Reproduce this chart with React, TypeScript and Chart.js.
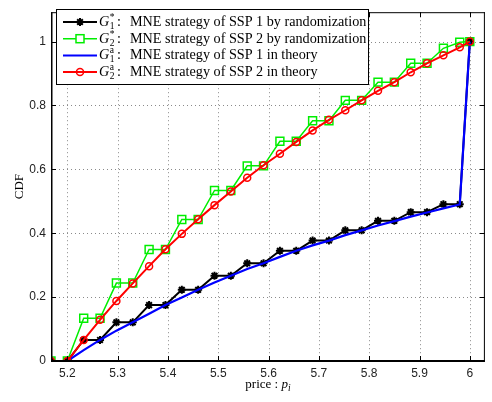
import React, { useEffect, useRef } from 'react';
import { Chart, registerables } from 'chart.js';

Chart.register(...registerables);

// price grid (x values)
const prices = [
  5.1675, 5.2, 5.2325, 5.265, 5.2975, 5.33, 5.3625, 5.395, 5.4275, 5.46, 5.4925,
  5.525, 5.5575, 5.59, 5.6225, 5.655, 5.6875, 5.72, 5.7525, 5.785, 5.8175, 5.85,
  5.8825, 5.915, 5.9475, 5.98, 6.0,
];

// G1* : SSP 1 by randomization (black)
const g1Random = [
  0, 0, 0.066, 0.066, 0.121, 0.121, 0.175, 0.175, 0.223, 0.223, 0.267, 0.267,
  0.306, 0.306, 0.345, 0.345, 0.377, 0.377, 0.409, 0.409, 0.439, 0.439, 0.466,
  0.466, 0.491, 0.491, 1,
];

// G2* : SSP 2 by randomization (green)
const g2Random = [
  0, 0, 0.134, 0.134, 0.244, 0.244, 0.349, 0.349, 0.443, 0.443, 0.534, 0.534,
  0.611, 0.611, 0.688, 0.688, 0.752, 0.752, 0.816, 0.816, 0.873, 0.873, 0.932,
  0.932, 0.979, 0.998, 1,
];

// G1a : SSP 1 in theory (blue)
const g1Theory = [
  0, 0, 0.034, 0.066, 0.095, 0.121, 0.148, 0.175, 0.199, 0.223, 0.246, 0.267,
  0.288, 0.306, 0.326, 0.345, 0.362, 0.377, 0.394, 0.409, 0.424, 0.438, 0.452,
  0.465, 0.478, 0.49, 1,
];

// G2a : SSP 2 in theory (red)
const g2Theory = [
  0, 0, 0.066, 0.129, 0.188, 0.243, 0.297, 0.35, 0.398, 0.444, 0.488, 0.531,
  0.574, 0.613, 0.649, 0.686, 0.722, 0.755, 0.785, 0.816, 0.846, 0.873, 0.904,
  0.932, 0.957, 0.982, 1,
];

const xTicks = [5.2, 5.3, 5.4, 5.5, 5.6, 5.7, 5.8, 5.9, 6];
const yTicks = [0, 0.2, 0.4, 0.6, 0.8, 1];

const legendTexts = [
  'MNE strategy of SSP 1 by randomization',
  'MNE strategy of SSP 2 by randomization',
  'MNE strategy of SSP 1 in theory',
  'MNE strategy of SSP 2 in theory',
];
const legendSubs = ['1', '2', '1', '2'];
const legendSups = ['*', '*', 'a', 'a'];
const legendColors = ['#000000', '#00ee00', '#0000ff', '#ff0000'];
const legendMarkers = ['star', 'square', 'none', 'circle'];

const yTitle = 'CDF';
const xTitleMain = 'price : ';
const xTitleVar = 'p';
const xTitleSub = 'i';

const SERIF = '"Liberation Serif", "DejaVu Serif", serif';
const SANS = '"Liberation Sans", Arial, sans-serif';

function drawMarker(ctx: CanvasRenderingContext2D, kind: string, x: number, y: number, color: string) {
  ctx.save();
  ctx.strokeStyle = color;
  ctx.fillStyle = color;
  ctx.setLineDash([]);
  if (kind === 'star') {
    ctx.lineWidth = 2;
    const r = 4;
    ctx.beginPath();
    ctx.moveTo(x - r, y); ctx.lineTo(x + r, y);
    ctx.moveTo(x, y - r); ctx.lineTo(x, y + r);
    const d = r * Math.SQRT1_2;
    ctx.moveTo(x - d, y - d); ctx.lineTo(x + d, y + d);
    ctx.moveTo(x - d, y + d); ctx.lineTo(x + d, y - d);
    ctx.stroke();
  } else if (kind === 'square') {
    ctx.lineWidth = 1.5;
    ctx.fillStyle = '#ffffff';
    ctx.fillRect(x - 4, y - 4, 8, 8);
    ctx.strokeRect(x - 4, y - 4, 8, 8);
  } else if (kind === 'circle') {
    ctx.lineWidth = 1.5;
    ctx.beginPath();
    ctx.arc(x, y, 3.5, 0, Math.PI * 2);
    ctx.stroke();
  }
  ctx.restore();
}

const framePlugin = {
  id: 'framePlugin',
  beforeDatasetsDraw(chart: any) {
    const { ctx, chartArea: a, scales } = chart;
    ctx.save();
    ctx.strokeStyle = '#8a8a8a';
    ctx.lineWidth = 1;
    ctx.setLineDash([1, 3]);
    for (const v of xTicks) {
      const px = Math.round(scales.x.getPixelForValue(v)) + 0.5;
      ctx.beginPath(); ctx.moveTo(px, a.top); ctx.lineTo(px, a.bottom); ctx.stroke();
    }
    for (const v of yTicks) {
      const py = Math.round(scales.y.getPixelForValue(v)) + 0.5;
      ctx.beginPath(); ctx.moveTo(a.left, py); ctx.lineTo(a.right, py); ctx.stroke();
    }
    ctx.restore();
  },
  afterDraw(chart: any) {
    const { ctx, chartArea: a, scales } = chart;
    ctx.save();
    ctx.setLineDash([]);
    ctx.strokeStyle = '#000';
    // inward tick marks
    ctx.lineWidth = 1;
    const tl = 5;
    for (const v of xTicks) {
      const px = Math.round(scales.x.getPixelForValue(v)) + 0.5;
      ctx.beginPath();
      ctx.moveTo(px, a.bottom); ctx.lineTo(px, a.bottom - tl);
      ctx.moveTo(px, a.top); ctx.lineTo(px, a.top + tl);
      ctx.stroke();
    }
    for (const v of yTicks) {
      const py = Math.round(scales.y.getPixelForValue(v)) + 0.5;
      ctx.beginPath();
      ctx.moveTo(a.left, py); ctx.lineTo(a.left + tl, py);
      ctx.moveTo(a.right, py); ctx.lineTo(a.right - tl, py);
      ctx.stroke();
    }
    // box
    ctx.lineWidth = 1;
    ctx.beginPath();
    ctx.moveTo(a.left, a.top + 0.5); ctx.lineTo(a.right, a.top + 0.5);
    ctx.moveTo(a.right - 0.5, a.top); ctx.lineTo(a.right - 0.5, a.bottom);
    ctx.stroke();
    ctx.lineWidth = 1.5;
    ctx.beginPath();
    ctx.moveTo(a.left + 0.75, a.top); ctx.lineTo(a.left + 0.75, a.bottom);
    ctx.stroke();
    ctx.lineWidth = 2;
    ctx.beginPath();
    ctx.moveTo(a.left, a.bottom); ctx.lineTo(a.right, a.bottom);
    ctx.stroke();

    // legend box
    const lx = 56.5, ly = 9.5, lw = 312, lh = 75;
    ctx.fillStyle = '#ffffff';
    ctx.fillRect(lx, ly, lw, lh);
    ctx.lineWidth = 1;
    ctx.strokeStyle = '#000';
    ctx.strokeRect(lx, ly, lw, lh);
    for (let i = 0; i < legendTexts.length; i++) {
      const cy = 22 + i * 16.7;
      ctx.strokeStyle = legendColors[i];
      ctx.lineWidth = i === 1 ? 1.5 : 2;
      ctx.beginPath(); ctx.moveTo(63, cy); ctx.lineTo(97, cy); ctx.stroke();
      drawMarker(ctx, legendMarkers[i], 80, cy, legendColors[i]);
      const base = cy + 4;
      ctx.fillStyle = '#000';
      ctx.textBaseline = 'alphabetic';
      ctx.textAlign = 'left';
      ctx.font = `italic 14.2px ${SERIF}`;
      ctx.fillText('G', 99, base);
      const gw = ctx.measureText('G').width;
      ctx.font = `9.5px ${SERIF}`;
      ctx.fillText(legendSubs[i], 99 + gw + 0.5, base + 3);
      ctx.fillText(legendSups[i], 99 + gw + 0.5, base - 6);
      ctx.font = `14.2px ${SERIF}`;
      ctx.fillText(':', 117, base);
      ctx.fillText(legendTexts[i], 130, base);
    }

    // axis titles
    ctx.fillStyle = '#000';
    ctx.font = `13px ${SERIF}`;
    ctx.save();
    ctx.translate(23, (a.top + a.bottom) / 2);
    ctx.rotate(-Math.PI / 2);
    ctx.textAlign = 'center';
    ctx.textBaseline = 'alphabetic';
    ctx.fillText(yTitle, 0, 0);
    ctx.restore();

    ctx.textAlign = 'left';
    ctx.font = `13px ${SERIF}`;
    const w1 = ctx.measureText(xTitleMain).width;
    ctx.font = `italic 13px ${SERIF}`;
    const w2 = ctx.measureText(xTitleVar).width;
    ctx.font = `italic 9.5px ${SERIF}`;
    const w3 = ctx.measureText(xTitleSub).width;
    const total = w1 + w2 + w3;
    let sx = (a.left + a.right) / 2 - total / 2;
    const by = 388;
    ctx.font = `13px ${SERIF}`;
    ctx.fillText(xTitleMain, sx, by);
    sx += w1;
    ctx.font = `italic 13px ${SERIF}`;
    ctx.fillText(xTitleVar, sx, by);
    sx += w2;
    ctx.font = `italic 9.5px ${SERIF}`;
    ctx.fillText(xTitleSub, sx, by + 3);
    ctx.restore();
  },
};

const fmt = (v: number) => String(Math.round(v * 100) / 100);

export default function App() {
  const ref = useRef<HTMLCanvasElement | null>(null);
  useEffect(() => {
    document.body.style.margin = '0';
    const canvas = ref.current;
    if (!canvas) return;
    const mk = (vals: number[]) => prices.map((x, i) => ({ x, y: vals[i] }));
    const chart = new Chart(canvas, {
      type: 'line',
      data: {
        datasets: [
          {
            label: 'G2a', data: mk(g2Theory), borderColor: '#ff0000', borderWidth: 2,
            pointStyle: 'circle', pointRadius: 3.5, pointBorderWidth: 1.5,
            pointBorderColor: '#ff0000', pointBackgroundColor: 'rgba(0,0,0,0)', order: 0,
          },
          {
            label: 'G1a', data: mk(g1Theory), borderColor: '#0000ff', borderWidth: 2.2,
            pointRadius: 0, order: 1,
          },
          {
            label: 'G2*', data: mk(g2Random), borderColor: '#00ee00', borderWidth: 1.5,
            pointStyle: 'rect', pointRadius: 5.6, pointBorderWidth: 1.5,
            pointBorderColor: '#00ee00', pointBackgroundColor: 'rgba(0,0,0,0)', order: 2,
          },
          {
            label: 'G1*', data: mk(g1Random), borderColor: '#000000', borderWidth: 2,
            pointStyle: 'star', pointRadius: 4, pointBorderWidth: 2,
            pointBorderColor: '#000000', pointBackgroundColor: '#000000', order: 3,
          },
        ],
      },
      options: {
        animation: false,
        responsive: false,
        devicePixelRatio: 1,
        layout: { padding: { top: 3, right: 1, left: 0, bottom: 0 } },
        plugins: { legend: { display: false }, tooltip: { enabled: false } },
        elements: { line: { tension: 0 } },
        scales: {
          x: {
            type: 'linear', min: 5.1675, max: 6.03,
            afterBuildTicks: (s: any) => { s.ticks = xTicks.map((v) => ({ value: v })); },
            afterFit: (s: any) => { s.height = 41; },
            grid: { display: false, drawTicks: false },
            border: { display: false },
            ticks: {
              padding: 5, color: '#222', font: { family: SANS, size: 12 }, maxRotation: 0, autoSkip: false,
              callback: (v: any) => fmt(Number(v)),
            },
          },
          y: {
            type: 'linear', min: 0, max: 1.092,
            afterBuildTicks: (s: any) => { s.ticks = yTicks.map((v) => ({ value: v })); },
            afterFit: (s: any) => { s.width = 51; },
            grid: { display: false, drawTicks: false },
            border: { display: false },
            ticks: {
              padding: 5, color: '#222', font: { family: SANS, size: 12 },
              callback: (v: any) => fmt(Number(v)),
            },
          },
        },
      },
      plugins: [framePlugin],
    } as any);
    return () => chart.destroy();
  }, []);
  return <canvas ref={ref} width={492} height={402} style={{ display: 'block' }} />;
}
